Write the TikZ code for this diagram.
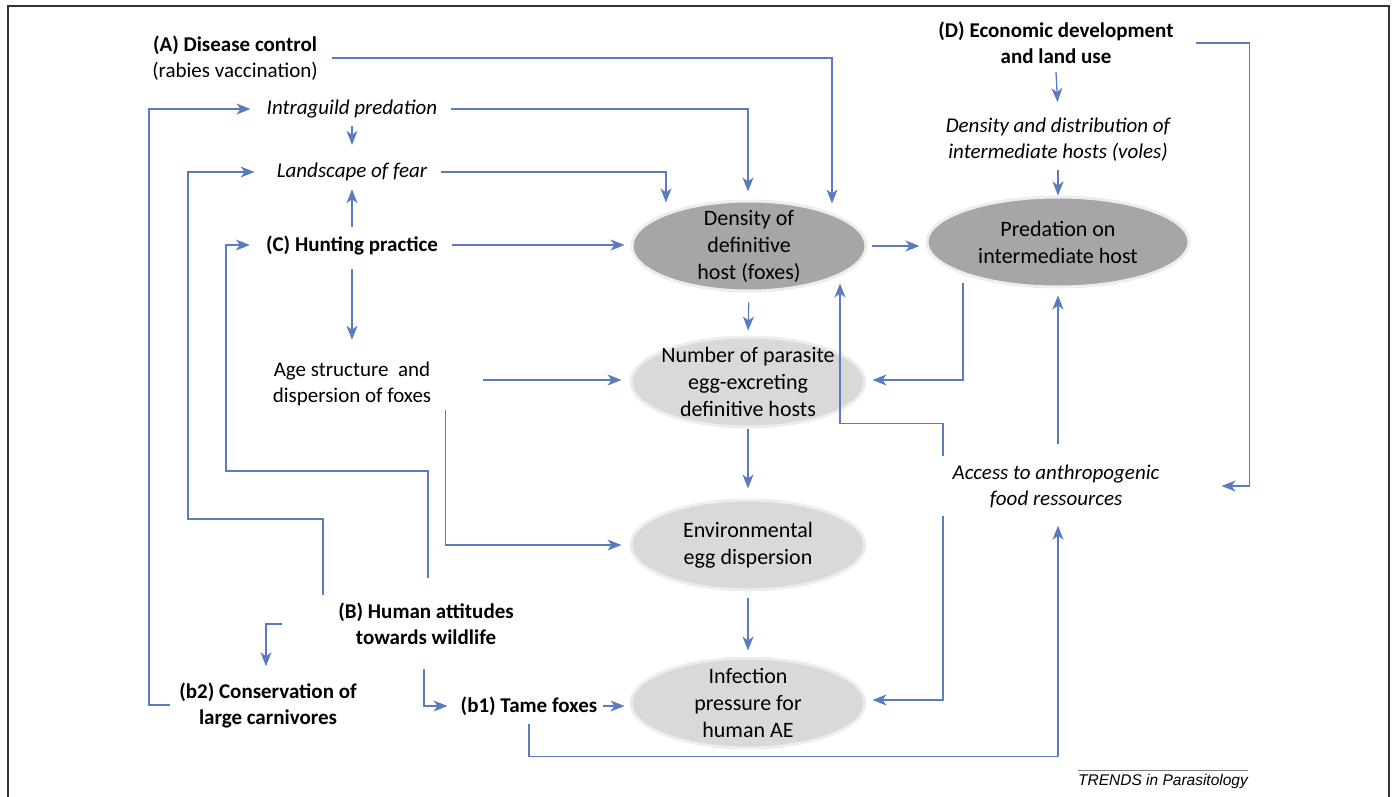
\documentclass[tikz,border=0pt]{standalone}
\usepackage{fontspec}
\setmainfont{Carlito}
\newfontfamily\trendsfont{Liberation Sans}
\usetikzlibrary{arrows.meta,shapes.geometric}
\definecolor{linkblue}{HTML}{5B7BC1}
\definecolor{hostdark}{HTML}{A6A6A6}
\definecolor{hostlight}{HTML}{D9D9D9}
\definecolor{rimgray}{HTML}{EDEDED}

\begin{document}
\begin{tikzpicture}[x=1pt,y=-1pt,
  every node/.style={align=center, inner xsep=14pt, inner ysep=8pt, font=\fontsize{21}{26}\selectfont},
  factor/.style={font=\fontsize{21}{26}\selectfont\bfseries},
  effect/.style={font=\fontsize{21}{26}\selectfont\itshape},
  hosttxt/.style={font=\fontsize{22}{27}\selectfont},
  host/.style={ellipse, draw=rimgray, line width=3pt, minimum width=234pt, minimum height=90pt, inner sep=0pt},
  darkhost/.style={host, fill=hostdark},
  lighthost/.style={host, fill=hostlight},
  conn/.style={draw=linkblue, line width=1.3pt, -{Stealth[length=14pt,width=11pt,inset=4pt]}}]
\useasboundingbox (0,0) rectangle (1392,797);
\draw[black!80, line width=1.6pt] (8,797) -- (8,6) -- (1389,6) -- (1389,797);

\node[darkhost] (DHost) at (749,246) {};
\node[hosttxt] (DHostTxt) at (DHost) {Density of\\definitive\\host (foxes)};
\node[darkhost, minimum width=262pt] (PHost) at (1058,242) {};
\node[hosttxt] (PHostTxt) at (PHost) {Predation on\\intermediate host};
\node[lighthost] (NHost) at (748,382) {};
\node[hosttxt] (NHostTxt) at (NHost) {Number of parasite\\egg-excreting\\definitive hosts};
\node[lighthost] (Env) at (748,545) {};
\node[hosttxt] (EnvTxt) at (Env) {Environmental\\egg dispersion};
\node[lighthost] (Inf) at (748,703) {};
\node[hosttxt] (InfTxt) at (Inf) {Infection\\pressure for\\human AE};

\node (A) at (235,58) {{\bfseries (A) Disease control}\\(rabies vaccination)};
\node[effect] (IGP) at (352,109) {Intraguild predation};
\node[effect] (LoF) at (352,172) {Landscape of fear};
\node[factor] (C) at (352,245) {(C) Hunting practice};
\node (Age) at (352,384) {Age structure\ \ and\\dispersion of foxes};
\node[factor] (D) at (1056,43) {(D) Economic development\\and land use};
\node[effect] (Voles) at (1058,140) {Density and distribution of\\intermediate hosts (voles)};
\node[effect] (Acc) at (1056,486) {Access to anthropogenic\\food ressources};
\node[factor] (B) at (426,624) {(B) Human attitudes\\towards wildlife};
\node[factor] (b1) at (529,706) {(b1) Tame foxes};
\node[factor] (b2) at (268,705) {(b2) Conservation of\\large carnivores};
\node[font=\trendsfont\fontsize{15.5}{18}\selectfont\itshape, inner sep=0pt] (Trends) at (1163,781) {TRENDS in Parasitology};
\draw[black!50, line width=1.6pt] ([yshift=3pt]Trends.north west) -- ([yshift=3pt]Trends.north east);

\draw[conn] (A.east) -| ([xshift=83pt,yshift=-4pt]DHost.north);
\draw[conn] (IGP.east) -| ([xshift=-1pt,yshift=8pt]DHost.north);
\draw[conn] (LoF.east) -| ([xshift=-83pt,yshift=-3pt]DHost.north);
\draw[conn] (IGP.south) -- ([yshift=10pt]LoF.north);
\draw[conn] (C.north) -- (LoF.south);
\draw[conn, shorten >=6pt] (C.east) -- (C.east -| DHost.west);
\draw[conn, shorten <=6pt, shorten >=14pt] (C.south) -- (Age.north);
\draw[conn, shorten <=38pt, shorten >=8pt] ([yshift=4pt]Age.east) -- ([yshift=4pt]Age.east -| NHost.west);
\draw[conn, shorten >=8pt] ([yshift=-26pt]Age.east) |- (Env.west);
\draw[conn, shorten <=4pt, shorten >=6pt] (DHost.east) -- (DHost.east -| PHost.west);
\draw[conn, shorten <=10pt, shorten >=5pt] (DHost.south) -- (NHost.north);
\draw[conn, shorten >=6pt] ([xshift=-95pt,yshift=6pt]PHost.south) |- ([yshift=2pt]NHost.east);
\draw[conn, shorten >=10pt] (NHost.south) -- (Env.north);
\draw[conn, shorten <=6pt, shorten >=6pt] (Env.south) -- (Inf.north);
\draw[conn] ([xshift=-113pt]Acc.north) -- ++(0,-33) -| ([xshift=91pt,yshift=9pt]DHost.south);
\draw[conn, shorten >=6pt] ([xshift=-113pt]Acc.south) |- ([yshift=3pt]Inf.east);
\draw[conn, shorten <=12pt, shorten >=7pt] ([xshift=2pt]Acc.north) -- ([xshift=2pt]Acc.north |- PHost.south);
\draw[conn] (b1.south) -- ++(0,33) -| ([xshift=2pt,yshift=-10pt]Acc.south);
\draw[conn] ([xshift=8pt]D.east) -- ++(54,0) |- ([xshift=48pt]Acc.east);
\draw[conn, shorten >=8pt] (D.south) -- (Voles.north);
\draw[conn] (Voles.south) -- (PHost.north);
\draw[conn] ([xshift=-103pt]B.north) -- ++(0,-76) -- ++(-135,0) |- ([xshift=-8pt]LoF.west);
\draw[conn] ([xshift=2pt,yshift=17pt]B.north) -- ++(0,-107) -- ++(-202,0) |- ([xshift=-2pt]C.west);
\draw[conn] ([xshift=5pt]b2.west) -- ++(-21,0) |- ([xshift=-2pt]IGP.west);
\draw[conn] ([xshift=-42pt]B.west) -| ([xshift=-2pt,yshift=8pt]b2.north);
\draw[conn] ([xshift=-2pt,yshift=-16pt]B.south) |- ([xshift=1pt]b1.west);
\draw[conn, shorten >=5pt] ([xshift=-9pt]b1.east) -- (b1.east -| Inf.west);
\end{tikzpicture}
\end{document}
